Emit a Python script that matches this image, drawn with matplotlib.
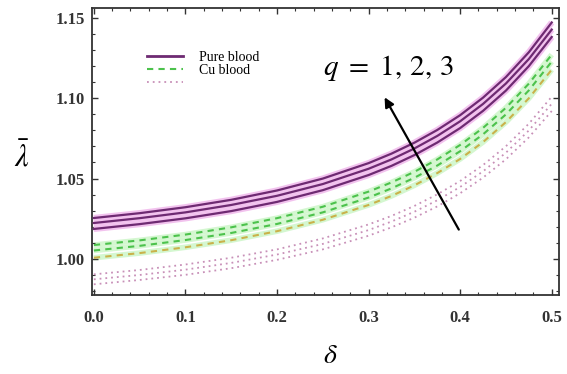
import matplotlib
matplotlib.use("Agg")
import matplotlib.pyplot as plt
from matplotlib.ticker import MultipleLocator, FormatStrFormatter
from matplotlib.lines import Line2D

plt.rcParams['mathtext.fontset'] = 'stix'
plt.rcParams['font.family'] = ['Liberation Serif', 'DejaVu Serif']

delta = [0.0, 0.05, 0.10, 0.15, 0.20, 0.25, 0.30, 0.325, 0.35, 0.375, 0.40, 0.425, 0.45, 0.475, 0.50]

pure_q1 = [1.0255, 1.0285, 1.0322, 1.0368, 1.0426, 1.0500, 1.0596, 1.0655, 1.0723, 1.0802, 1.0894, 1.1003, 1.1131, 1.1285, 1.1470]
pure_q2 = [1.0224, 1.0254, 1.0290, 1.0336, 1.0393, 1.0466, 1.0561, 1.0619, 1.0687, 1.0765, 1.0856, 1.0964, 1.1091, 1.1243, 1.1426]
pure_q3 = [1.0187, 1.0217, 1.0253, 1.0298, 1.0355, 1.0428, 1.0522, 1.0579, 1.0646, 1.0724, 1.0814, 1.0921, 1.1047, 1.1199, 1.1380]

cu_q1 = [1.0087, 1.0116, 1.0152, 1.0197, 1.0254, 1.0325, 1.0419, 1.0476, 1.0542, 1.0619, 1.0709, 1.0815, 1.0940, 1.1090, 1.1270]
cu_q2 = [1.0053, 1.0082, 1.0118, 1.0162, 1.0218, 1.0290, 1.0382, 1.0439, 1.0505, 1.0581, 1.0670, 1.0775, 1.0899, 1.1048, 1.1227]
cu_q3 = [1.0008, 1.0037, 1.0073, 1.0117, 1.0173, 1.0244, 1.0336, 1.0392, 1.0458, 1.0534, 1.0622, 1.0727, 1.0851, 1.0999, 1.1177]

dot_q1 = [0.9905, 0.9932, 0.9966, 1.0008, 1.0060, 1.0128, 1.0215, 1.0268, 1.0330, 1.0402, 1.0485, 1.0584, 1.0701, 1.0841, 1.1009]
dot_q2 = [0.9874, 0.9901, 0.9934, 0.9976, 1.0028, 1.0094, 1.0180, 1.0233, 1.0294, 1.0365, 1.0448, 1.0545, 1.0661, 1.0799, 1.0965]
dot_q3 = [0.9843, 0.9870, 0.9902, 0.9943, 0.9995, 1.0060, 1.0145, 1.0197, 1.0257, 1.0327, 1.0409, 1.0506, 1.0620, 1.0756, 1.0920]

legend_labels = ["Pure blood", "Cu blood", ""]
annotation_text = r"$q\ =\ 1,\,2,\,3$"

fig = plt.figure(figsize=(5.67, 3.74), dpi=100)
ax = fig.add_axes([0.1623, 0.211, 0.8237, 0.7676])

purple = '#6e2a72'
halo = '#f2c2ee'
for ys in (pure_q1, pure_q2, pure_q3):
    ax.plot(delta, ys, color=halo, lw=4.5, solid_capstyle='butt', zorder=2)
for ys in (pure_q1, pure_q2, pure_q3):
    ax.plot(delta, ys, color=purple, lw=1.6, zorder=3)

green_cols = ['#4cc24c', '#4cc24c', '#c9b24a']
for ys, c in zip((cu_q1, cu_q2, cu_q3), green_cols):
    ax.plot(delta, ys, color='#d4f7d0', lw=4.0, zorder=1, solid_capstyle='butt')
for ys, c in zip((cu_q1, cu_q2, cu_q3), green_cols):
    ax.plot(delta, ys, color=c, lw=1.5, dashes=(3, 2.5), zorder=2)

dot_col = '#c890b8'
for ys in (dot_q1, dot_q2, dot_q3):
    ax.plot(delta, ys, color=dot_col, lw=1.3, dashes=(1, 2.2), zorder=2)

ax.set_xlim(-0.002, 0.508)
ax.set_ylim(0.9776, 1.156)

ax.xaxis.set_major_locator(MultipleLocator(0.1))
ax.xaxis.set_minor_locator(MultipleLocator(0.02))
ax.yaxis.set_major_locator(MultipleLocator(0.05))
ax.yaxis.set_minor_locator(MultipleLocator(0.01))
ax.xaxis.set_major_formatter(FormatStrFormatter('%.1f'))
ax.yaxis.set_major_formatter(FormatStrFormatter('%.2f'))
ax.tick_params(which='both', direction='in', top=True, right=True, color='#333333')
ax.tick_params(which='major', length=4, width=1.0, labelsize=12)
ax.tick_params(axis='x', which='major', pad=11)
ax.tick_params(axis='y', which='major', pad=5)
ax.tick_params(which='minor', length=2.5, width=0.8)
for lab in ax.get_xticklabels() + ax.get_yticklabels():
    lab.set_fontweight('bold')
    lab.set_color('#333333')
for sp in ax.spines.values():
    sp.set_linewidth(1.3)
    sp.set_color('#333333')

ax.set_xlabel(r'$\delta$', fontsize=20)
ax.xaxis.set_label_coords(0.51, -0.17)
ax.set_ylabel(r'$\bar{\lambda}$', fontsize=22, rotation=0, va='center', ha='center')
ax.yaxis.set_label_coords(-0.15, 0.48)

handles = [
    Line2D([], [], color=purple, lw=2.0),
    Line2D([], [], color='#4cc24c', lw=1.5, dashes=(3, 2.5)),
    Line2D([], [], color=dot_col, lw=1.3, dashes=(1, 2.2)),
]
ax.legend(handles, legend_labels, loc='upper left', bbox_to_anchor=(0.09, 0.895),
          frameon=False, fontsize=10, handlelength=2.6, handletextpad=1.2,
          labelspacing=0.0)

ax.text(0.250, 1.119, annotation_text, fontsize=21, ha='left', va='center')
ax.annotate('', xy=(0.316, 1.102), xytext=(0.400, 1.0168),
            arrowprops=dict(arrowstyle='-|>', color='black', lw=1.6, mutation_scale=14))

fig.savefig('out.png', dpi=100)
